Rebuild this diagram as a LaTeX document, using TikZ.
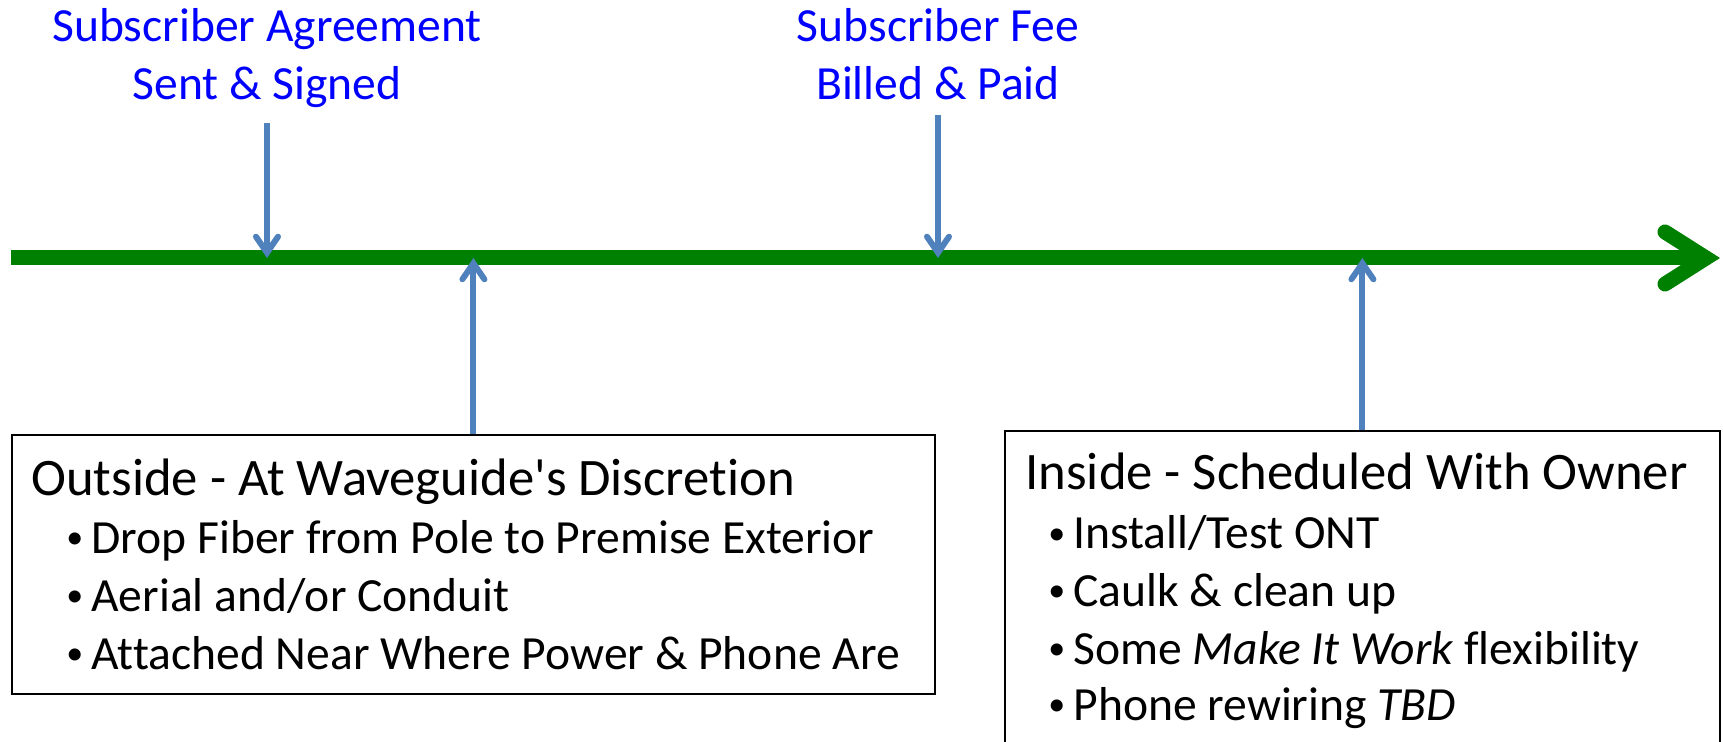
\documentclass[tikz,border=0pt]{standalone}
\usepackage{fontspec}
\setmainfont{Carlito}[Ligatures={NoCommon}]
\usetikzlibrary{arrows.meta}
\definecolor{linegreen}{RGB}{0,128,0}
\definecolor{markblue}{RGB}{79,129,189}
\newcommand{\itembullet}{\makebox[10.5pt][l]{\hspace*{-2pt}\raisebox{2.2pt}{\fontsize{17}{29}\selectfont\textbullet}}}

\begin{document}
\begin{tikzpicture}[x=0.5pt,y=-0.5pt,
  timeline/.style={linegreen,line width=7.5pt},
  marker/.style={markblue,line width=3pt,-{Straight Barb[length=8pt,width=11pt,line cap=round]}},
  event node/.style={text=blue,align=center,anchor=base,inner sep=0pt,font=\fontsize{23.8}{29}\selectfont},
  box node/.style={draw,line width=0.9pt,anchor=north west,inner sep=0pt},
  head node/.style={anchor=base west,inner sep=0pt,font=\fontsize{26.35}{29}\selectfont},
  item node/.style={anchor=base west,inner sep=0pt,font=\fontsize{23.8}{29}\selectfont}]

\useasboundingbox (0,0) rectangle (1723,742);

% the time line
\coordinate (tl start) at (11,258);
\coordinate (tl end) at (1706,258);
\draw[timeline] (tl start) -- (tl end);
\draw[timeline,line cap=round,line join=miter]
  ([shift={(-41,-26)}]tl end) -- (tl end) -- ([shift={(-41,26)}]tl end);

% events above the line (base = last line)
\node[event node] (agree) at (267,100) {Subscriber Agreement\\Sent \& Signed};
\node[event node] (fee) at (938,100) {Subscriber Fee\\Billed \& Paid};

% work below the line
\node[box node,minimum width=461.5pt,minimum height=129.5pt] (out) at (11,434) {};
\node[head node] (out head) at (31,495) {Outside - At Waveguide\textquotesingle s Discretion};
\node[item node] (out a) at (70,553) {\itembullet Drop Fiber from Pole to Premise Exterior};
\node[item node] (out b) at (70,611) {\itembullet Aerial and/or Conduit};
\node[item node] (out c) at (70,669) {\itembullet Attached Near Where Power \& Phone Are};

\node[box node,minimum width=357.5pt,minimum height=170pt] (in) at (1004,430) {};
\node[head node] (in head) at (1025,490) {Inside - Scheduled With Owner};
\node[item node] (in a) at (1052,549) {\itembullet Install/Test ONT};
\node[item node] (in b) at (1052,606) {\itembullet Caulk \& clean up};
\node[item node] (in c) at (1052,664) {\itembullet Some \textit{Make It Work} flexibility};
\node[item node] (in d) at (1052,720) {\itembullet Phone rewiring \textit{TBD}};

\path[marker]
(agree) edge[shorten <=7pt] (agree |- tl start)
(fee) edge[shorten <=7pt] (fee |- tl start)
(out) edge (out |- tl start)
(in) edge (in |- tl start);

\end{tikzpicture}
\end{document}
